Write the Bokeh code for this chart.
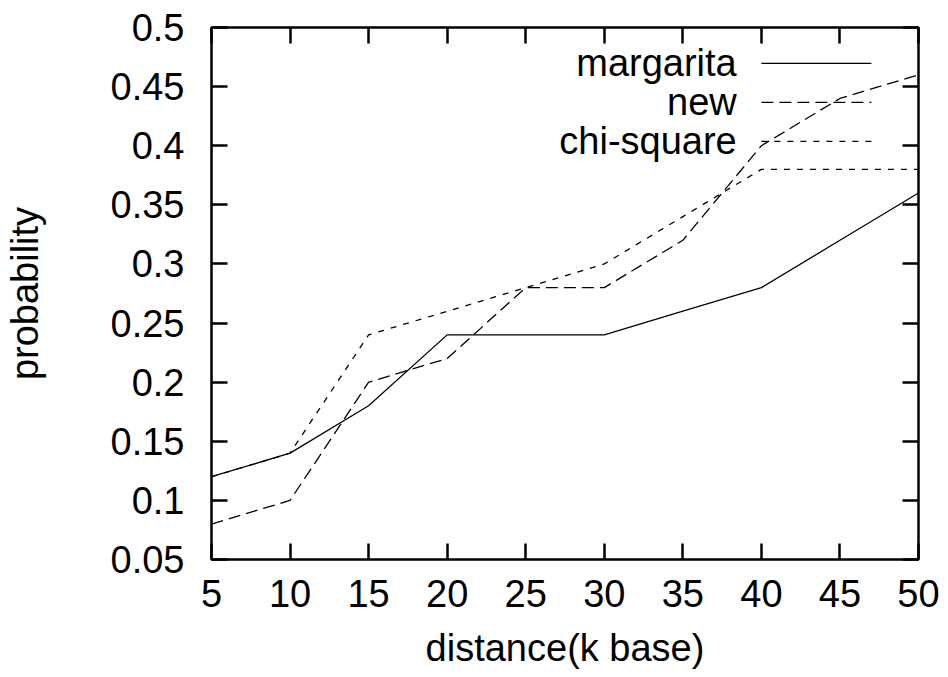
from bokeh.plotting import figure
from bokeh.models import FixedTicker, LinearAxis, Range1d, Label
from bokeh.embed import file_html
from bokeh.resources import INLINE

# ---- data ----
distance = [5, 10, 15, 20, 25, 30, 35, 40, 45, 50]
margarita = [0.12, 0.14, 0.18, 0.24, 0.24, 0.24, 0.26, 0.28, 0.32, 0.36]
new = [0.08, 0.10, 0.20, 0.22, 0.28, 0.28, 0.32, 0.40, 0.44, 0.46]
chi_square = [0.12, 0.14, 0.24, 0.26, 0.28, 0.30, 0.34, 0.38, 0.38, 0.38]
series_names = ["margarita", "new", "chi-square"]

x_ticks = [5, 10, 15, 20, 25, 30, 35, 40, 45, 50]
y_ticks = [0.05, 0.1, 0.15, 0.2, 0.25, 0.3, 0.35, 0.4, 0.45, 0.5]
y_tick_labels = ["0.05", "0.1", "0.15", "0.2", "0.25", "0.3", "0.35", "0.4", "0.45", "0.5"]

FONT = "Liberation Sans"
FS = "38px"

p = figure(width=948, height=677, output_backend="svg", toolbar_location=None,
           x_range=Range1d(5, 50), y_range=Range1d(0.05, 0.5),
           min_border_left=210, min_border_right=30, min_border_top=27, min_border_bottom=118,
           x_axis_label="distance(k base)", y_axis_label="probability")
p.grid.visible = False
p.outline_line_color = "black"
p.outline_line_width = 2.5
p.background_fill_color = "white"
p.border_fill_color = "white"

xt = FixedTicker(ticks=x_ticks)
yt = FixedTicker(ticks=y_ticks)

def style_axis(ax, ticker, show_labels):
    ax.ticker = ticker
    ax.axis_line_color = None
    ax.major_tick_in = 16
    ax.major_tick_out = 0
    ax.major_tick_line_width = 2.5
    ax.major_tick_line_color = "black"
    ax.minor_tick_line_color = None
    ax.major_label_text_font = FONT
    ax.major_label_text_color = "black"
    ax.major_label_text_font_size = FS
    if show_labels:
        ax.axis_label_text_font = FONT
        ax.axis_label_text_font_size = FS
        ax.axis_label_text_font_style = "normal"
        ax.axis_label_text_color = "black"
    else:
        ax.major_label_overrides = {t: "" for t in ticker.ticks}
        ax.major_label_standoff = 0

xa = p.xaxis[0]
ya = p.yaxis[0]
style_axis(xa, xt, True)
style_axis(ya, yt, True)
xa.major_label_standoff = 20
xa.axis_label_standoff = 17
ya.major_label_standoff = 27
ya.major_label_overrides = {t: l for t, l in zip(y_ticks, y_tick_labels)}
ya.axis_label_standoff = 62

top = LinearAxis()
right = LinearAxis()
style_axis(top, xt, False)
style_axis(right, yt, False)
p.add_layout(top, "above")
p.add_layout(right, "right")

dashes = ["solid", "12 6", "6 7"]
values = [margarita, new, chi_square]
for vals, d in zip(values, dashes):
    p.line(distance, vals, line_color="black", line_width=1.3, line_dash=d)

# legend (label left, sample right), placed in data space
leg_text_x = 38.43
leg_x0, leg_x1 = 40.0, 47.0
leg_y = [0.4696, 0.4366, 0.4036]
for name, d, yy in zip(series_names, dashes, leg_y):
    p.add_layout(Label(x=leg_text_x, y=yy, text=name, text_align="right",
                       text_baseline="middle", text_font=FONT, text_font_size=FS,
                       text_color="black"))
    p.line([leg_x0, leg_x1], [yy, yy], line_color="black", line_width=1.3, line_dash=d)

open("out.html", "w").write(file_html(p, INLINE))
